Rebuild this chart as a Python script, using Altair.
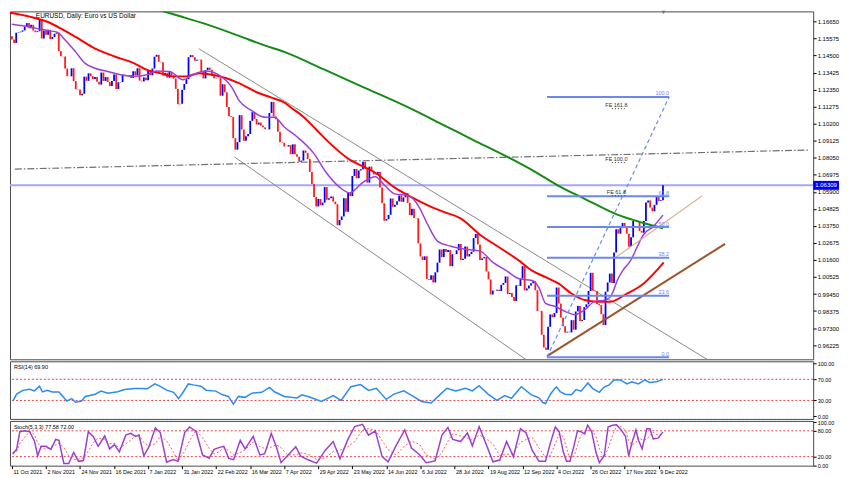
import altair as alt
import pandas as pd

# ---------------- data (EURUSD daily, one bar per weekday, 11 Oct 2021 .. 13 Dec 2022)
closes = [
    1.1552, 1.1530, 1.1594, 1.1597, 1.1601,
    1.1609, 1.1633, 1.1655, 1.1623, 1.1644,
    1.1608, 1.1598, 1.1604, 1.1681, 1.1558,
    1.1607, 1.1581, 1.1613, 1.1554, 1.1567,
    1.1588, 1.1594, 1.1478, 1.1446, 1.1444,
    1.1368, 1.1320, 1.1319, 1.1370, 1.1289,
    1.1237, 1.1236, 1.1199, 1.1209, 1.1317,
    1.1291, 1.1338, 1.1320, 1.1302, 1.1315,
    1.1285, 1.1267, 1.1343, 1.1290, 1.1315,
    1.1283, 1.1258, 1.1289, 1.1331, 1.1239,
    1.1281, 1.1283, 1.1330, 1.1327, 1.1322,
    1.1327, 1.1309, 1.1351, 1.1325, 1.1370,
    1.1292, 1.1287, 1.1312, 1.1295, 1.1359,
    1.1326, 1.1368, 1.1443, 1.1455, 1.1411,
    1.1408, 1.1325, 1.1341, 1.1311, 1.1346,
    1.1325, 1.1305, 1.1240, 1.1143, 1.1146,
    1.1234, 1.1271, 1.1301, 1.1440, 1.1453,
    1.1440, 1.1417, 1.1424, 1.1425, 1.1348,
    1.1306, 1.1358, 1.1374, 1.1360, 1.1321,
    1.1307, 1.1309, 1.1308, 1.1197, 1.1269,
    1.1218, 1.1126, 1.1067, 1.1063, 1.0929,
    1.0856, 1.0904, 1.1074, 1.0983, 1.0912,
    1.0941, 1.0955, 1.1038, 1.1093, 1.1050,
    1.1015, 1.1027, 1.1008, 1.0997, 1.0985,
    1.0984, 1.1088, 1.1158, 1.1066, 1.1048,
    1.0970, 1.0903, 1.0900, 1.0877, 1.0876,
    1.0885, 1.0828, 1.0890, 1.0828, 1.0812,
    1.0780, 1.0787, 1.0851, 1.0836, 1.0797,
    1.0716, 1.0640, 1.0557, 1.0498, 1.0545,
    1.0505, 1.0522, 1.0620, 1.0540, 1.0550,
    1.0561, 1.0528, 1.0512, 1.0379, 1.0412,
    1.0435, 1.0550, 1.0465, 1.0586, 1.0563,
    1.0690, 1.0734, 1.0676, 1.0725, 1.0733,
    1.0780, 1.0735, 1.0648, 1.0749, 1.0720,
    1.0700, 1.0704, 1.0716, 1.0617, 1.0519,
    1.0408, 1.0418, 1.0445, 1.0548, 1.0496,
    1.0508, 1.0530, 1.0567, 1.0527, 1.0555,
    1.0583, 1.0520, 1.0443, 1.0484, 1.0425,
    1.0423, 1.0265, 1.0182, 1.0160, 1.0183,
    1.0040, 1.0035, 1.0063, 1.0018, 1.0082,
    1.0143, 1.0226, 1.0178, 1.0229, 1.0211,
    1.0223, 1.0121, 1.0196, 1.0197, 1.0221,
    1.0261, 1.0160, 1.0168, 1.0245, 1.0182,
    1.0197, 1.0212, 1.0298, 1.0324, 1.0258,
    1.0160, 1.0170, 1.0179, 1.0087, 1.0037,
    0.9942, 0.9967, 0.9966, 0.9972, 0.9964,
    1.0003, 1.0015, 1.0056, 0.9945, 0.9952,
    0.9926, 0.9901, 1.0000, 0.9996, 1.0043,
    1.0121, 0.9968, 0.9980, 0.9999, 1.0013,
    1.0026, 0.9969, 0.9837, 0.9838, 0.9688,
    0.9607, 0.9594, 0.9738, 0.9816, 0.9799,
    0.9825, 0.9986, 0.9885, 0.9796, 0.9742,
    0.9702, 0.9707, 0.9703, 0.9780, 0.9720,
    0.9835, 0.9870, 0.9775, 0.9781, 0.9862,
    0.9880, 0.9964, 1.0079, 0.9966, 0.9964,
    0.9882, 0.9876, 0.9818, 0.9749, 0.9960,
    1.0018, 1.0074, 1.0014, 1.0207, 1.0354,
    1.0326, 1.0361, 1.0394, 1.0364, 1.0326,
    1.0243, 1.0303, 1.0406, 1.0408, 1.0399,
    1.0343, 1.0332, 1.0406, 1.0523, 1.0536,
    1.0491, 1.0467, 1.0508, 1.0557, 1.0532,
    1.0537, 1.0631,
]
first_open = 1.1572

date_labels = ['11 Oct 2021', '2 Nov 2021', '24 Nov 2021', '16 Dec 2021', '7 Jan 2022',
               '31 Jan 2022', '22 Feb 2022', '16 Mar 2022', '7 Apr 2022', '29 Apr 2022',
               '23 May 2022', '14 Jun 2022', '6 Jul 2022', '28 Jul 2022', '19 Aug 2022',
               '12 Sep 2022', '4 Oct 2022', '26 Oct 2022', '17 Nov 2022', '9 Dec 2022']
label_step = 16

price_ticks = [1.16650, 1.15575, 1.14500, 1.13425, 1.12350, 1.11275, 1.10200, 1.09125,
               1.08050, 1.06975, 1.05900, 1.04825, 1.03750, 1.02675, 1.01600, 1.00525,
               0.99450, 0.98375, 0.97300, 0.96225]
current_price = 1.06309
current_label = "1.06309"

# moving averages (bar index, price)
red_bar = [-0.9, 8.3, 17.5, 23.5, 29.9, 39.1, 48.3, 57.5, 63.5, 69.5, 76.0, 82.0, 87.9, 94.4, 100.4,
           106.4, 115.6, 122.0, 128.0, 131.1, 137.2, 143.2, 149.5, 158.7, 164.8, 170.8, 179.8, 187.8,
           195.5, 203.0, 210.9, 220.0, 229.3, 238.5, 244.5, 250.8, 257.0, 263.0, 269.2, 275.3, 281.3,
           289.1, 296.8, 302.9, 306.3]
red_val = [1.17206, 1.16959, 1.16588, 1.16174, 1.15679, 1.14939, 1.14443, 1.14010, 1.13596, 1.13392,
           1.13188, 1.13188, 1.13392, 1.13287, 1.13083, 1.12774, 1.12156, 1.11847, 1.11538, 1.11228,
           1.10610, 1.09807, 1.08960, 1.07934, 1.07520, 1.07105, 1.06178, 1.05560, 1.05046, 1.04636,
           1.04224, 1.03192, 1.02370, 1.01541, 1.00923, 1.00515, 1.00101, 0.99482, 0.99068, 0.98969,
           0.98969, 0.99482, 1.00101, 1.00923, 1.01442]
purple_bar = [-0.1, 5.2, 11.4, 17.5, 21.3, 25.2, 29.9, 34.4, 39.0, 45.1, 51.1, 57.4, 63.5, 68.1, 74.1,
              80.4, 85.0, 91.2, 97.2, 103.5, 106.4, 112.7, 118.8, 123.4, 128.0, 134.0, 141.8, 147.8,
              154.1, 158.7, 164.8, 170.8, 175.4, 180.0, 186.3, 190.9, 195.5, 200.1, 206.3, 213.9,
              220.1, 226.1, 232.4, 238.5, 244.5, 247.7, 250.8, 255.4, 260.0, 264.6, 269.2, 273.8,
              279.1, 282.2, 284.5, 287.6, 290.7, 293.7, 296.8, 301.4, 306.0]
purple_val = [1.16483, 1.16378, 1.16217, 1.16069, 1.15970, 1.15451, 1.14734, 1.14010, 1.13701, 1.13497,
              1.13287, 1.13188, 1.13287, 1.13534, 1.13497, 1.12978, 1.13287, 1.13534, 1.13287, 1.12465,
              1.11742, 1.11024, 1.10610, 1.10610, 1.09992, 1.09374, 1.08341, 1.07105, 1.06178, 1.05831,
              1.06487, 1.06858, 1.06283, 1.05770, 1.05665, 1.05046, 1.03810, 1.02778, 1.02469, 1.02265,
              1.02159, 1.01442, 1.00923, 1.00410, 1.00305, 0.99853, 0.98865, 0.98661, 0.98351, 0.98141,
              0.98450, 0.98969, 0.99068, 0.99482, 1.00305, 1.01027, 1.01541, 1.02369, 1.03191, 1.03705,
              1.04428]
green_bar = [63.5, 78.7, 91.2, 106.4, 118.8, 128.0, 146.4, 164.8, 186.3, 201.7, 216.9, 232.4, 247.7,
             256.9, 269.2, 284.5, 296.8, 306.0]
green_val = [1.17596, 1.16996, 1.16483, 1.15760, 1.15142, 1.14734, 1.13640, 1.12527, 1.11228, 1.10196,
             1.09170, 1.08137, 1.07025, 1.06283, 1.05461, 1.04459, 1.03934, 1.03606]

# RSI(14)
rsi_bar = [0.5, 2.2, 5.1, 8.3, 10.6, 12.9, 14.3, 16.6, 18.9, 22.1, 25.8, 28.1, 29.9, 32.7, 34.5, 39.1,
           41.9, 45.1, 49.7, 52.9, 57.5, 60.3, 63.5, 67.2, 69.5, 72.7, 76.0, 78.3, 80.6, 82.9, 85.2,
           88.9, 91.2, 95.8, 99.0, 101.7, 104.1, 106.4, 109.6, 112.8, 117.4, 121.1, 123.4, 128.0,
           131.2, 134.0, 136.3, 139.5, 145.5, 151.0, 154.7, 159.3, 163.9, 167.6, 171.3, 175.9, 179.6,
           184.2, 188.8, 192.5, 197.0, 200.7, 204.4, 208.6, 213.2, 216.4, 219.6, 223.8, 227.9, 231.6,
           234.8, 239.4, 244.0, 247.7, 249.5, 250.8, 253.1, 255.1, 256.0, 257.7, 260.0, 263.0, 265.2,
           267.5, 270.7, 273.0, 276.1, 278.4, 280.7, 283.0, 285.9, 289.1, 291.4, 294.5, 297.4, 299.7,
           303.0, 306.0]
rsi_val = [29, 42, 49, 51, 48, 57, 46, 49, 46, 46, 29, 33.5, 26.5, 29, 37.6, 41.8, 47.6, 43.6, 46.4,
           50.6, 52.4, 52.4, 52, 61.2, 57, 49.4, 45.3, 33.5, 46.4, 61.2, 59.4, 57, 49.4, 47.6, 40.6,
           37.6, 23, 37.6, 35.8, 43.6, 45.3, 54.7, 46.4, 37.6, 35.8, 34.8, 40.6, 37, 28, 39, 30, 56,
           60, 49, 53, 32, 42, 48, 37, 28, 25, 39, 53, 48, 53, 48, 58, 42, 30, 39, 34, 56, 41, 35, 26,
           24.2, 41.8, 52.4, 55.2, 46.4, 41.8, 40.6, 50.6, 47.6, 63, 52.4, 45.3, 55.2, 59.4, 68.8,
           68.8, 61.2, 65.2, 61.2, 68.8, 64, 65.2, 69.9]

# Stochastic(5,3,3)
sto_bar = [0.3, 2.2, 3.7, 6, 8.3, 10.6, 12.1, 13.7, 16, 18.3, 20.6, 22.1, 24.4, 26.7, 29, 31.3, 33.6,
           35.9, 38.2, 40.5, 43.6, 45.9, 48.2, 50.5, 53.5, 55.8, 58.1, 59.7, 62, 64.3, 67.4, 69.7,
           72.7, 75.8, 78.1, 81.2, 83.5, 86.6, 89.6, 92.7, 95, 97.3, 99.6, 101.9, 104.2, 107.3, 109.6,
           113.4, 116.5, 118.8, 121.9, 124.2, 126.5, 129.5, 133.4, 135.7, 139.5, 143.2, 147.3, 151,
           154.2, 157.9, 161.1, 164.8, 167.6, 170.8, 174, 176.8, 180.5, 184.6, 187.8, 191.5, 194.7,
           198.9, 202.1, 204.9, 207.2, 210.9, 214.1, 216.4, 219.6, 222.8, 226.1, 229.3, 232.5, 235.7,
           239, 241.7, 244.5, 247.7, 250.8, 253.1, 255.4, 257.2, 259.2, 260.7, 262.3, 264.3, 265.8,
           267.4, 269.2, 270.6, 272.5, 274.5, 276.1, 278.4, 280.2, 282.2, 284.2, 286.4, 288.4, 289.9,
           291.4, 293.3, 294.5, 296.2, 298.4, 299.9, 301.4, 303.7, 306]
sto_main = [26, 37, 78, 80, 78, 56, 22, 44, 44, 37, 60, 58, 4, 4, 30, 9, 11, 78, 67, 44,
            68, 38, 48, 31, 70, 74, 67, 70, 22, 42, 87, 76, 7, 13, 9, 76, 89, 78, 24, 16,
            37, 41, 44, 16, 13, 58, 38, 67, 24, 27, 74, 44, 6, 22, 43, 21,
            12, 5, 35, 55, 15, 60, 90, 95, 70, 80, 20, 8, 45, 82, 40, 25, 6, 10, 70, 88,
            60, 55, 75, 45, 90, 50, 8, 12, 55, 20, 85, 75, 35, 9,
            9, 52, 89, 78, 30, 9, 9, 48, 80, 78, 73, 93, 78, 30, 6, 22, 89, 93, 94, 82,
            67, 22, 52, 82, 58, 38, 85, 85, 61, 63, 77.58]
sto_signal = [30, 32, 50, 65, 79, 71, 52, 41, 37, 42, 47, 52, 41, 22, 13, 14, 17, 33, 52, 63,
              60, 50, 51, 39, 50, 58, 70, 70, 53, 45, 50, 68, 57, 32, 10, 33, 58, 81, 64, 39,
              26, 31, 41, 34, 24, 29, 36, 54, 43, 39, 42, 48, 41, 24, 24, 29,
              25, 13, 17, 32, 35, 43, 55, 82, 85, 82, 57, 36, 24, 45, 56, 49, 24, 14, 29, 56,
              73, 68, 63, 58, 70, 62, 49, 23, 25, 29, 53, 60, 65, 40,
              18, 23, 50, 73, 66, 39, 16, 22, 46, 69, 77, 81, 82, 67, 38, 19, 39, 68, 92, 90,
              81, 57, 47, 52, 64, 59, 60, 69, 77, 69, 72.00]

# drawn objects (bar index, price)
channel_upper = ([87.8, 327.3], [1.14937, 0.95278])
channel_lower = ([104.6, 242.2], [1.08100, 0.95261])
dashdot_line = ([1.38, 374.3], [1.07334, 1.08539])
brown_line = ([251.5, 335.2], [0.95526, 1.02618])
tan_line = ([283.7, 324.3], [1.01751, 1.05634])
fib_x0, fib_x1 = 251.5, 308.9
fib_labels = ['0.0', '23.6', '38.2', '50.0', '61.8', '100.0']
fib_prices = [0.95465, 0.99341, 1.01740, 1.03678, 1.05615, 1.11890]
fib_diag = ([251.5, 308.9], [0.95465, 1.11890])
fe_labels = ['FE 161.8', 'FE 100.0', 'FE 61.8']
fe_prices = [1.1137, 1.0797, 1.0588]
fe_bar, fe_dot0, fe_dot1, fe_dot_gap = 284.1, 282.0, 289.0, 0.0022

# ---------------- layout / style
W = 808
H_MAIN, H_RSI, H_STO = 350, 58, 45
FONT = "Liberation Sans"
FIB = "#6b88ee"

x_scale = alt.Scale(domain=[-0.92, 376.6], nice=False, zero=False)
X = alt.X('idx:Q', scale=x_scale, axis=None)


def right_axis(values, fmt, size=6):
    return alt.Axis(orient='right', values=values, format=fmt, labelFont=FONT, labelFontSize=size,
                    labelColor='#000000', tickSize=3, tickColor='#000000', domain=False, grid=False,
                    labelPadding=1, labelFlush=False, labelOverlap=False, title=None)


Y = alt.Y('price:Q', scale=alt.Scale(domain=[0.9533, 1.1729], nice=False, zero=False),
          axis=right_axis(price_ticks, '.5f'))

one = pd.DataFrame({'k': [0]})


def label(text, x, y, size=6):
    return alt.Chart(one).mark_text(align='left', baseline='middle', font=FONT, fontSize=size,
                                    color='#000000').encode(
        x=alt.value(x), y=alt.value(y), text=alt.value(text))


def seg(xy, **mark):
    df = pd.DataFrame({'idx': xy[0], 'price': xy[1]})
    return alt.Chart(df).mark_line(clip=True, **mark).encode(x=X, y=Y)


# candles (open = previous close)
opens = [first_open] + closes[:-1]
cdf = pd.DataFrame({'idx': list(range(len(closes))), 'price': opens, 'close': closes})
cdf['dir'] = ['up' if c >= o else 'down' for o, c in zip(opens, closes)]
candles = alt.Chart(cdf).mark_rule(strokeWidth=1.8).encode(
    x=X, y=Y, y2='close:Q',
    color=alt.Color('dir:N', scale=alt.Scale(domain=['up', 'down'], range=['#0000ff', '#ff1a1a']),
                    legend=None))

cur_df = pd.DataFrame({'price': [current_price], 'label': [current_label]})
cur_line = alt.Chart(cur_df).mark_rule(color='#a3a9ff', strokeWidth=2).encode(y=Y)
cur_box = alt.Chart(cur_df).mark_tick(orient='horizontal', size=26, thickness=9,
                                      color='#0000ff', opacity=1).encode(x=alt.value(W + 13), y=Y)
cur_text = alt.Chart(cur_df).mark_text(color='white', fontSize=6, font=FONT, align='center',
                                       baseline='middle').encode(x=alt.value(W + 13), y=Y,
                                                                 text='label:N')

fib_df = pd.DataFrame({'idx': [fib_x0] * len(fib_prices), 'idx2': [fib_x1] * len(fib_prices),
                       'price': fib_prices, 'label': fib_labels})
fib_rules = alt.Chart(fib_df).mark_rule(color=FIB, strokeWidth=2).encode(x=X, x2='idx2:Q', y=Y)
fib_text = alt.Chart(fib_df).mark_text(align='right', baseline='bottom', dy=-0.5, fontSize=5.5,
                                       font=FONT, color=FIB).encode(
    x=alt.X('idx2:Q', scale=x_scale, axis=None), y=Y, text='label:N')

fe_df = pd.DataFrame({'idx': [fe_bar] * 3, 'price': fe_prices, 'label': fe_labels})
fe_text = alt.Chart(fe_df).mark_text(align='center', baseline='middle', fontSize=5.5, font=FONT,
                                     color='#303030').encode(x=X, y=Y, text='label:N')
fe_dots_df = pd.DataFrame({'idx': [fe_dot0] * 3, 'idx2': [fe_dot1] * 3,
                           'price': [p - fe_dot_gap for p in fe_prices]})
fe_dots = alt.Chart(fe_dots_df).mark_rule(color='#404040', strokeDash=[1, 2], strokeWidth=1).encode(
    x=X, x2='idx2:Q', y=Y)

marker = alt.Chart(pd.DataFrame({'idx': [306.3]})).mark_point(
    shape='triangle-down', filled=True, size=14, color='#707070', opacity=1).encode(
    x=X, y=alt.value(1))

main = alt.layer(
    label("EURUSD, Daily: Euro vs US Dollar", 26, 5, 6.5),
    cur_line,
    seg(dashdot_line, color='#707070', strokeWidth=1.2, strokeDash=[7, 2, 1.5, 2]),
    seg(channel_upper, color='#8a8a8a', strokeWidth=1),
    seg(channel_lower, color='#8a8a8a', strokeWidth=1),
    candles,
    seg((green_bar, green_val), color='#148c14', strokeWidth=2, interpolate='monotone'),
    seg((red_bar, red_val), color='#ff0000', strokeWidth=2, interpolate='monotone'),
    seg((purple_bar, purple_val), color='#9d40d8', strokeWidth=1.5, interpolate='monotone'),
    seg(tan_line, color='#d8b48e', strokeWidth=1.2),
    seg(brown_line, color='#a0522d', strokeWidth=2),
    fib_rules,
    seg(fib_diag, color=FIB, strokeWidth=1.2, strokeDash=[4, 3]),
    fib_text,
    fe_text,
    fe_dots,
    marker,
    cur_box,
    cur_text,
).properties(width=W, height=H_MAIN)

# ---------------- RSI panel
Yr = alt.Y('val:Q', scale=alt.Scale(domain=[-5, 104], nice=False, zero=False),
           axis=right_axis([0, 30, 70, 100], '.2f', 5.5))
rsi_df = pd.DataFrame({'idx': rsi_bar, 'val': rsi_val})
rsi = alt.layer(
    alt.Chart(pd.DataFrame({'val': [30, 70]})).mark_rule(
        color='#e04848', strokeDash=[2, 2], strokeWidth=1).encode(y=Yr),
    alt.Chart(rsi_df).mark_line(color='#2b8cf0', strokeWidth=1.5).encode(x=X, y=Yr),
    label("RSI(14) 69.90", 4, 6, 5.5),
).properties(width=W, height=H_RSI)

# ---------------- Stochastic panel
label_js = "[" + ",".join("'" + d + "'" for d in date_labels) + "]"
Xs = alt.X('idx:Q', scale=x_scale,
           axis=alt.Axis(values=[i * label_step for i in range(len(date_labels))],
                         labelExpr=label_js + "[round(datum.value / " + str(label_step) + ")]",
                         labelAlign='left', labelFont=FONT, labelFontSize=5.4, labelColor='#000000',
                         tickSize=3, tickColor='#000000', domain=False, grid=False, labelPadding=1,
                         labelOffset=1, labelOverlap=False, labelFlush=False, title=None))
Ys = alt.Y('val:Q', scale=alt.Scale(domain=[-1, 103], nice=False, zero=False),
           axis=right_axis([0, 20, 80, 100], '.2f', 5.5))
n = min(len(sto_bar), len(sto_main), len(sto_signal))
sto_df = pd.DataFrame({'idx': sto_bar[:n], 'val': sto_main[:n]})
sig_df = pd.DataFrame({'idx': sto_bar[:n], 'val': sto_signal[:n]})
sto = alt.layer(
    alt.Chart(pd.DataFrame({'val': [20, 80]})).mark_rule(
        color='#e04848', strokeDash=[2, 2], strokeWidth=1).encode(y=Ys),
    alt.Chart(sig_df).mark_line(color='#ff5a5a', strokeWidth=1, strokeDash=[2, 2]).encode(x=Xs, y=Ys),
    alt.Chart(sto_df).mark_line(color='#9d3fd0', strokeWidth=1.5).encode(x=Xs, y=Ys),
    label("Stoch(5,3,3) 77.58 72.00", 4, 6, 5.5),
).properties(width=W, height=H_STO)

chart = alt.vconcat(main, rsi, sto, spacing=2, bounds='flush', padding=0,
                    background='white').configure_view(stroke='#4a4a4a', strokeWidth=1)

chart.save("out.html", embed_options={"renderer": "svg", "actions": False})
